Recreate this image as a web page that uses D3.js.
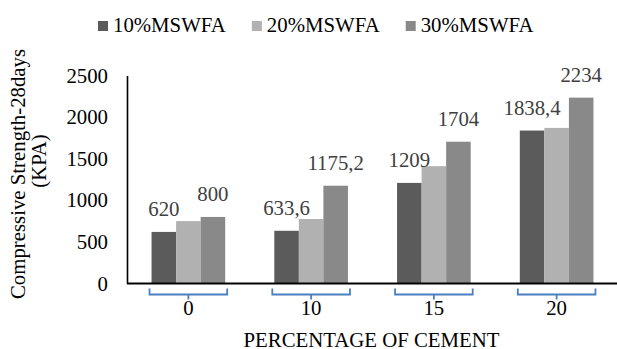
<!DOCTYPE html>
<html>
<head>
<meta charset="utf-8">
<script src="https://cdn.jsdelivr.net/npm/d3@7"></script>
<style>
  html, body { margin: 0; padding: 0; background: #fff; }
  svg { display: block; }
  svg text { font-family: "Liberation Serif", "Times New Roman", serif; }
</style>
</head>
<body>
<svg id="chart" width="617" height="349"></svg>
<script>
// Cement percentage groups
const categories = ["0", "10", "15", "20"];
// Series names (fly-ash replacement level)
const seriesNames = ["10%MSWFA", "20%MSWFA", "30%MSWFA"];
// Compressive strength, 28 days (kPa)
const mswfa10 = [620, 633.6, 1209, 1838.4];
const mswfa20 = [750, 775, 1410, 1870];
const mswfa30 = [800, 1175.2, 1704, 2234];
// Which series carry value labels
const showLabels = [true, false, true];
const seriesColors = ["#5b5b5b", "#b1b1b1", "#898989"];
const yTicks = [0, 500, 1000, 1500, 2000, 2500];

const seriesValues = [mswfa10, mswfa20, mswfa30];
const rows = categories.map((c, i) => ({
  cat: c,
  vals: seriesValues.map((s, j) => ({ key: seriesNames[j], j, v: s[i] }))
}));

const svg = d3.select("#chart");
const FS = 20.8;
const plotLeft = 127, plotRight = 618, plotTop = 75.5, plotBottom = 283.5;

const x = d3.scaleBand().domain(categories).range([plotLeft, plotRight])
  .paddingInner(0.4).paddingOuter(0.2);
const xs = d3.scaleBand().domain(seriesNames).range([0, x.bandwidth()]);
const y = d3.scaleLinear().domain([0, 2500]).range([plotBottom, plotTop]);
const color = d3.scaleOrdinal().domain(seriesNames).range(seriesColors);

// Bars
const groups = svg.append("g").selectAll("g").data(rows).join("g")
  .attr("transform", d => `translate(${x(d.cat)},0)`);
groups.selectAll("rect").data(d => d.vals).join("rect")
  .attr("x", d => xs(d.key))
  .attr("y", d => y(d.v))
  .attr("width", xs.bandwidth())
  .attr("height", d => y(0) - y(d.v))
  .attr("fill", d => color(d.key));

// Value labels
const fmt = v => String(v).replace(".", ",");
groups.selectAll("text.val").data(d => d.vals.filter(e => showLabels[e.j])).join("text")
  .attr("class", "val")
  .attr("x", d => xs(d.key) + xs.bandwidth() / 2)
  .attr("y", d => y(d.v) - 16)
  .attr("text-anchor", "middle")
  .attr("font-size", FS)
  .attr("fill", "#404040")
  .text(d => fmt(d.v));

// Y axis
const yAxis = svg.append("g").attr("transform", `translate(${plotLeft},0)`)
  .call(d3.axisLeft(y).tickValues(yTicks).tickFormat(d3.format("d")).tickSize(0).tickPadding(19));
yAxis.attr("font-family", null).attr("font-size", null);
yAxis.select(".domain").attr("stroke", "#000").attr("stroke-width", 1.6);
yAxis.selectAll("text").attr("font-size", FS).attr("fill", "#000");

// X axis line
svg.append("line")
  .attr("x1", plotLeft).attr("x2", 617)
  .attr("y1", y(0)).attr("y2", y(0))
  .attr("stroke", "#000").attr("stroke-width", 2);

// Group brackets under each category
const br = svg.append("g").attr("fill", "none").attr("stroke", "#4a7fc1")
  .attr("stroke-width", 1.8);
categories.forEach(c => {
  const x0 = x(c) - 2, x1 = x(c) + x.bandwidth() + 2, xm = x(c) + x.bandwidth() / 2;
  const yb = y(0) + 11;
  br.append("path").attr("d",
    `M${x0},${yb - 6} L${x0},${yb} L${x1},${yb} L${x1},${yb - 6} M${xm},${yb} L${xm},${yb + 5}`);
});

// Category labels
svg.append("g").selectAll("text").data(categories).join("text")
  .attr("x", d => x(d) + x.bandwidth() / 2)
  .attr("y", 315)
  .attr("text-anchor", "middle")
  .attr("font-size", FS)
  .attr("fill", "#000")
  .text(d => d);

// Axis titles
svg.append("text")
  .attr("x", (plotLeft + plotRight) / 2 - 1).attr("y", 346.5)
  .attr("text-anchor", "middle").attr("font-size", FS).attr("fill", "#000")
  .text("PERCENTAGE OF CEMENT");

const yt = svg.append("g").attr("font-size", FS).attr("fill", "#000").attr("text-anchor", "middle");
yt.append("text").attr("transform", "translate(25,174) rotate(-90)")
  .text("Compressive Strength-28days");
yt.append("text").attr("transform", "translate(46,161) rotate(-90)")
  .text("(KPA)");

// Legend
const legend = svg.append("g");
let lx = 98;
seriesNames.forEach(name => {
  legend.append("rect").attr("x", lx).attr("y", 21).attr("width", 10).attr("height", 10)
    .attr("fill", color(name));
  const t = legend.append("text").attr("x", lx + 15).attr("y", 32)
    .attr("font-size", FS).attr("fill", "#000").text(name);
  lx += 15 + t.node().getComputedTextLength() + 26;
});
</script>
</body>
</html>
